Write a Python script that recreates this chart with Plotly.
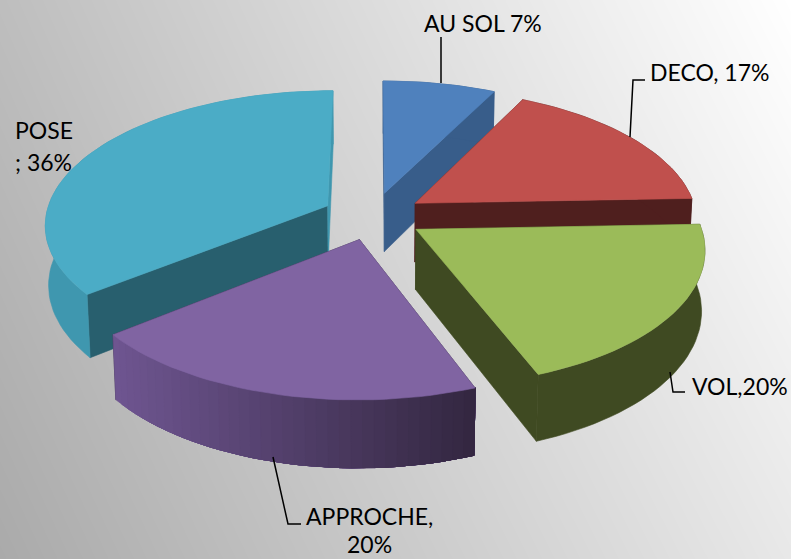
import math
import plotly.graph_objects as go

categories = ["AU SOL", "DECO", "VOL", "APPROCHE", "POSE"]
values = [7.4, 17, 19.8, 20, 35.8]
top_colors = ["#4F81BD", "#C0504D", "#9BBB59", "#8064A2", "#4BACC6"]
wall_start_colors = ["#385D8A", "#4F1F1E", "#3F4A22", "#32263F", "#285F6E"]
wall_end_colors = ["#385D8A", "#4F1F1E", "#3F4A22", "#32263F", "#3F97AF"]
rim_left = ["#385D8A", "#4F1F1E", "#3F4A22", "#6E5590", "#3F97AF"]
rim_right = ["#385D8A", "#4F1F1E", "#3F4A22", "#32263F", "#3F97AF"]
draw_order = [4, 0, 1, 3, 2]

label_text = ["AU SOL 7%", "DECO, 17%", "VOL,20%", "APPROCHE,", "20%", "POSE", "; 36%"]
label_x = [422, 648, 690, 304, 345, 13, 13]
label_y = [23, 72, 386, 516, 544, 130, 162]
leaders = [
    ([441, 441], [37, 83]),
    ([645, 633, 630], [80, 80, 137]),
    ([670, 673, 685], [372, 392, 392]),
    ([273, 288, 301], [457, 524, 524]),
]

# view parameters of the tilted pie
CX, CY, FX, FY, PERSP, TILT, HEIGHT, EXPLODE = 373, 216, 282, 132.6, 0.131, 0.01, 60, 0.18
ARC_STEP = 2.0


def project(x, y, d):
    w = 1 - PERSP * y + TILT * d
    return CX + FX * x / w, CY + (FY * y + HEIGHT * d) / w


def mix(c1, c2, t):
    a = [int(c1[i:i + 2], 16) for i in (1, 3, 5)]
    b = [int(c2[i:i + 2], 16) for i in (1, 3, 5)]
    return "rgb(%d,%d,%d)" % tuple(round(p + (q - p) * t) for p, q in zip(a, b))


def poly(pts, color):
    xs = [p[0] for p in pts] + [pts[0][0]]
    ys = [p[1] for p in pts] + [pts[0][1]]
    return go.Scatter(x=xs, y=ys, mode="lines", fill="toself", fillcolor=color,
                      line=dict(color=color, width=0.6), hoverinfo="skip", showlegend=False)


fig = go.Figure()
fig.add_trace(go.Heatmap(x=[0, 791], y=[0, 559], z=[[190, 255], [170, 232]], zmin=0, zmax=255,
                         zsmooth="best", showscale=False, hoverinfo="skip",
                         colorscale=[[0, "rgb(0,0,0)"], [1, "rgb(255,255,255)"]]))

total = sum(values)
starts = [sum(values[:i]) / total * 360 for i in range(len(values))]
for idx in draw_order:
    a0 = starts[idx]
    a1 = a0 + values[idx] / total * 360
    mid = math.radians((a0 + a1) / 2)
    ox, oy = EXPLODE * math.sin(mid), -EXPLODE * math.cos(mid)
    n = max(2, int((a1 - a0) / ARC_STEP))
    angles = [math.radians(a0 + (a1 - a0) * i / n) for i in range(n + 1)]
    rim = [(ox + math.sin(a), oy - math.cos(a)) for a in angles]
    apex = (ox, oy)
    for end, col in ((rim[0], wall_start_colors[idx]), (rim[-1], wall_end_colors[idx])):
        fig.add_trace(poly([project(*apex, 0), project(*end, 0), project(*end, 1), project(*apex, 1)], col))
    if rim_left[idx] == rim_right[idx]:
        fig.add_trace(poly([project(*p, 0) for p in rim] + [project(*p, 1) for p in reversed(rim)],
                           rim_left[idx]))
    else:
        sxs = [project(*p, 0)[0] for p in rim]
        lo, hi = min(sxs), max(sxs)
        # each band reaches to the far end and is overpainted by the next, so no seam shows
        order = sorted(range(n + 1), key=lambda i: sxs[i])
        for i in order[:-1]:
            t = (sxs[i] - lo) / (hi - lo)
            tail = rim[i:] if sxs[-1] > sxs[0] else rim[:i + 1][::-1]
            fig.add_trace(poly([project(*p, 0) for p in tail] + [project(*p, 1) for p in reversed(tail)],
                               mix(rim_left[idx], rim_right[idx], t)))
    fig.add_trace(poly([project(*apex, 0)] + [project(*p, 0) for p in rim], top_colors[idx]))

for xs, ys in leaders:
    fig.add_trace(go.Scatter(x=xs, y=ys, mode="lines", line=dict(color="#000000", width=1.5),
                             hoverinfo="skip", showlegend=False))

for t, x, y in zip(label_text, label_x, label_y):
    fig.add_annotation(x=x, y=y, text=t, showarrow=False, xanchor="left", yanchor="middle",
                       font=dict(family="Lato", size=23, color="#000000"))

fig.update_xaxes(range=[0, 791], visible=False, fixedrange=True)
fig.update_yaxes(range=[559, 0], visible=False, fixedrange=True)
fig.update_layout(width=791, height=559, margin=dict(l=0, r=0, t=0, b=0),
                  paper_bgcolor="#ffffff", plot_bgcolor="#ffffff", showlegend=False)
fig.write_html("out.html", config={"displayModeBar": False},
               post_script="document.body.style.margin='0';document.body.style.overflow='hidden';")
